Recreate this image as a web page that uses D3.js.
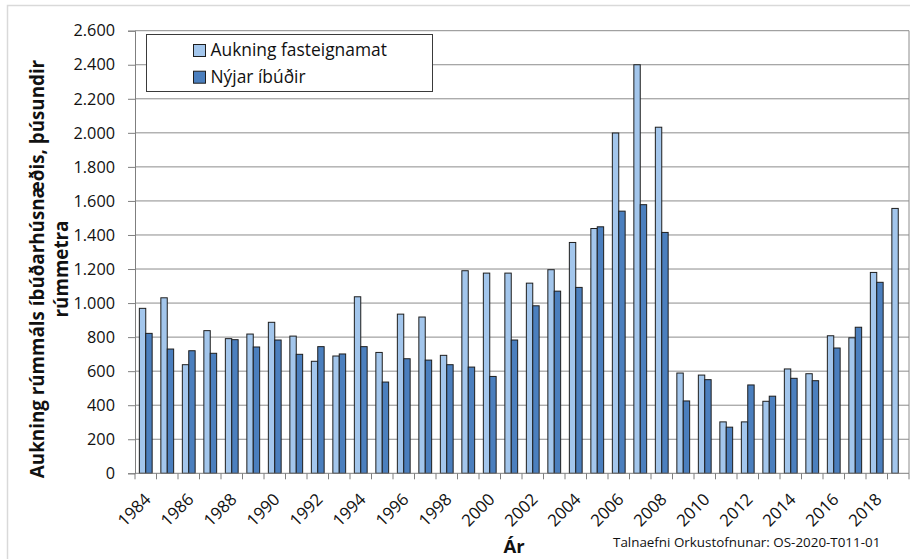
<!DOCTYPE html>
<html>
<head>
<meta charset="utf-8">
<script src="https://cdn.jsdelivr.net/npm/d3@7"></script>
<style>
  html, body { margin: 0; padding: 0; background: #fff; }
  svg { display: block; font-family: "Open Sans", sans-serif; }
</style>
</head>
<body>
<svg id="chart" width="910" height="559"></svg>
<script>
// ---- Data ----
const years = ["1984","1985","1986","1987","1988","1989","1990","1991","1992","1993",
  "1994","1995","1996","1997","1998","1999","2000","2001","2002","2003",
  "2004","2005","2006","2007","2008","2009","2010","2011","2012","2013",
  "2014","2015","2016","2017","2018","2019"];
const fasteignamat = [969, 1031, 638, 838, 791, 818, 887, 806, 658, 689,
  1037, 710, 935, 918, 693, 1190, 1176, 1176, 1117, 1196,
  1356, 1438, 1999, 2400, 2033, 589, 577, 302, 302, 423,
  613, 585, 808, 796, 1180, 1556];
const nyjarIbudir = [822, 730, 720, 705, 785, 742, 783, 699, 744, 701,
  744, 536, 673, 665, 638, 624, 569, 783, 984, 1070,
  1092, 1448, 1540, 1578, 1415, 425, 550, 271, 519, 453,
  558, 544, 736, 858, 1122, null];
const seriesNames = ["Aukning fasteignamat", "Nýjar íbúðir"];
const yTicks = [0, 200, 400, 600, 800, 1000, 1200, 1400, 1600, 1800, 2000, 2200, 2400, 2600];
const xTickLabels = ["1984","1986","1988","1990","1992","1994","1996","1998","2000",
  "2002","2004","2006","2008","2010","2012","2014","2016","2018"];
const yTitleLines = ["Aukning rúmmáls íbúðarhúsnæðis, þúsundir", "rúmmetra"];
const xTitle = "Ár";
const sourceNote = "Talnaefni Orkustofnunar: OS-2020-T011-01";

// ---- Setup ----
const colors = ["#a3c6ec", "#4b7fbe"];
const svg = d3.select("#chart");
const plot = { left: 135, right: 909, top: 30.7, bottom: 473.3 };

const locale = d3.formatLocale({ decimal: ",", thousands: ".", grouping: [3], currency: ["", ""] });
const fmt = locale.format(",d");

const x = d3.scaleBand().domain(years).range([plot.left, plot.right]).paddingInner(0).paddingOuter(0);
const xs = d3.scaleBand().domain([0, 1]).range([0, x.bandwidth()]).paddingInner(0).paddingOuter(0.68);
const y = d3.scaleLinear().domain([0, 2600]).range([plot.bottom, plot.top]);

// outer chart border
svg.append("path")
  .attr("d", "M7.5,559 V5.5 H910")
  .attr("fill", "none").attr("stroke", "#d9d9d9").attr("stroke-width", 1.5);

// gridlines
svg.append("g").selectAll("line").data(yTicks.filter(d => d > 0)).join("line")
  .attr("x1", plot.left).attr("x2", plot.right)
  .attr("y1", d => y(d)).attr("y2", d => y(d))
  .attr("stroke", "#8c8c8c").attr("stroke-width", 1);

// right border of plot area
svg.append("line")
  .attr("x1", plot.right).attr("x2", plot.right)
  .attr("y1", plot.top).attr("y2", plot.bottom)
  .attr("stroke", "#8c8c8c").attr("stroke-width", 1);

// bars
const series = [fasteignamat, nyjarIbudir];
series.forEach((vals, si) => {
  svg.append("g").selectAll("rect")
    .data(years.map((yr, i) => ({ yr, v: vals[i] })).filter(d => d.v != null))
    .join("rect")
    .attr("x", d => x(d.yr) + xs(si))
    .attr("width", xs.bandwidth())
    .attr("y", d => y(d.v))
    .attr("height", d => y(0) - y(d.v))
    .attr("fill", colors[si])
    .attr("stroke", "#1e1e1e")
    .attr("stroke-width", 1);
});

// Y axis
const yAxis = d3.axisLeft(y).tickValues(yTicks).tickFormat(fmt).tickSize(7).tickPadding(13);
const gy = svg.append("g").attr("transform", `translate(${plot.left},0)`).call(yAxis);
gy.select(".domain").attr("stroke", "#7f7f7f");
gy.selectAll(".tick line").attr("stroke", "#7f7f7f");
gy.selectAll(".tick text").attr("font-size", 16.3).attr("fill", "#111")
  .attr("font-family", "Open Sans, sans-serif");

// X axis: ticks on category boundaries
const gx = svg.append("g");
gx.append("line")
  .attr("x1", plot.left).attr("x2", plot.right)
  .attr("y1", plot.bottom).attr("y2", plot.bottom)
  .attr("stroke", "#7f7f7f");
const bounds = years.map(d => x(d)).concat([plot.right]);
gx.selectAll("line.tk").data(bounds).join("line").attr("class", "tk")
  .attr("x1", d => d).attr("x2", d => d)
  .attr("y1", plot.bottom).attr("y2", plot.bottom + 6)
  .attr("stroke", "#7f7f7f");
gx.selectAll("text").data(xTickLabels).join("text")
  .attr("transform", d => `translate(${x(d) + x.bandwidth() / 2 + 2},${plot.bottom + 23}) rotate(-45)`)
  .attr("text-anchor", "end")
  .attr("dy", "0.35em")
  .attr("font-size", 16.8)
  .attr("fill", "#111")
  .text(d => d);

// Y title
const yt = svg.append("text")
  .attr("transform", "translate(0,269) rotate(-90)")
  .attr("text-anchor", "middle")
  .attr("font-weight", "bold")
  .attr("font-size", 18.8)
  .attr("fill", "#111");
yt.selectAll("tspan").data(yTitleLines).join("tspan")
  .attr("x", 0)
  .attr("y", (d, i) => i === 0 ? 44 : 68)
  .text(d => d);

// X title
svg.append("text")
  .attr("x", 514).attr("y", 552.5)
  .attr("text-anchor", "middle")
  .attr("font-weight", "bold")
  .attr("font-size", 18.5)
  .attr("fill", "#111")
  .text(xTitle);

// Source note
svg.append("text")
  .attr("x", 613).attr("y", 546.5)
  .attr("font-size", 13.4)
  .attr("fill", "#111")
  .text(sourceNote);

// Legend
const lg = svg.append("g");
lg.append("rect")
  .attr("x", 146.5).attr("y", 34.5).attr("width", 286).attr("height", 57)
  .attr("fill", "#fff").attr("stroke", "#3a3a3a").attr("stroke-width", 1);
const items = lg.selectAll("g.item").data(seriesNames).join("g").attr("class", "item")
  .attr("transform", (d, i) => `translate(193.5,${44.5 + i * 26.7})`);
items.append("rect")
  .attr("width", 12).attr("height", 12)
  .attr("fill", (d, i) => colors[i])
  .attr("stroke", "#1e1e1e");
items.append("text")
  .attr("x", 17).attr("y", 11.8)
  .attr("font-size", 17.4)
  .attr("fill", "#111")
  .text(d => d);
</script>
</body>
</html>
